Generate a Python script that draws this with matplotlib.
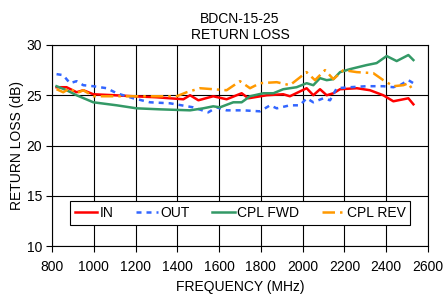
import numpy as np
import matplotlib
matplotlib.use("Agg")
import matplotlib.pyplot as plt

plt.rcParams['font.family'] = ['Liberation Sans', 'DejaVu Sans']

# --- data ---
freq_in = [822, 870, 918, 950, 998, 1100, 1189, 1300, 1429, 1461, 1501, 1572, 1636, 1708,
           1740, 1828, 1907, 1939, 2019, 2051, 2083, 2115, 2147, 2179, 2259, 2322, 2386,
           2434, 2506, 2530]
rl_in = [25.8, 25.8, 25.3, 25.5, 25.1, 25.0, 24.9, 24.8, 24.6, 25.0, 24.5, 24.9, 24.6, 25.2,
         24.7, 25.0, 25.1, 24.9, 25.7, 25.0, 25.6, 25.0, 25.2, 25.6, 25.7, 25.5, 25.0,
         24.4, 24.7, 24.1]

freq_out = [822, 854, 886, 918, 950, 998, 1062, 1110, 1189, 1269, 1365, 1476, 1548, 1588,
            1636, 1716, 1796, 1844, 1876, 1939, 1987, 2019, 2051, 2099, 2131, 2163, 2227,
            2306, 2386, 2434, 2466, 2506, 2530]
rl_out = [27.1, 27.0, 26.2, 26.4, 26.0, 25.9, 25.7, 25.2, 24.7, 24.3, 24.2, 23.8, 23.3, 23.8,
          23.5, 23.5, 23.4, 24.0, 23.7, 24.0, 24.0, 24.7, 24.3, 24.7, 24.5, 25.7, 25.8,
          25.9, 25.9, 25.8, 26.0, 26.5, 26.2]

freq_fwd = [822, 870, 918, 998, 1110, 1205, 1317, 1461, 1524, 1572, 1604, 1668, 1708, 1748,
            1812, 1860, 1907, 1971, 2019, 2051, 2083, 2115, 2147, 2179, 2227, 2306, 2354,
            2402, 2450, 2506, 2530]
rl_fwd = [25.9, 25.5, 25.0, 24.3, 24.0, 23.7, 23.6, 23.5, 23.7, 23.9, 23.8, 24.3, 24.3, 24.9,
          25.2, 25.2, 25.6, 25.8, 26.2, 26.0, 26.7, 26.5, 26.6, 27.3, 27.6, 28.0, 28.2,
          28.9, 28.4, 29.0, 28.5]

freq_rev = [822, 854, 886, 918, 950, 998, 1110, 1269, 1397, 1445, 1509, 1572, 1636, 1700,
            1748, 1796, 1876, 1939, 2019, 2059, 2107, 2147, 2195, 2259, 2338, 2386, 2434,
            2482, 2506, 2530]
rl_rev = [25.6, 25.3, 25.7, 25.2, 25.5, 24.9, 24.9, 24.9, 24.9, 25.3, 25.7, 25.6, 25.5, 26.4,
          25.7, 26.2, 26.3, 26.0, 27.3, 26.5, 27.5, 26.6, 27.5, 27.3, 27.2, 26.5, 25.9,
          26.0, 26.2, 25.4]

x_ticks = list(range(800, 2601, 200))
y_ticks = [10, 15, 20, 25, 30]

# --- plot ---
fig = plt.figure(figsize=(4.44, 2.94), dpi=100)
ax = fig.add_axes([0.117, 0.163, 0.847, 0.684])

ax.plot(freq_in, rl_in, color='#FF0000', lw=1.8, label='IN')
ax.plot(freq_out, rl_out, color='#3366FF', lw=1.8, ls=(0, (2, 2)), label='OUT')
ax.plot(freq_fwd, rl_fwd, color='#339966', lw=1.8, label='CPL FWD')
ax.plot(freq_rev, rl_rev, color='#FF9900', lw=1.8, ls=(0, (5, 2, 1, 2)), label='CPL REV')

ax.set_xlim(800, 2600)
ax.set_ylim(10, 30)
ax.set_xticks(x_ticks)
ax.set_yticks(y_ticks)
ax.grid(True, color='black', lw=0.8)
ax.tick_params(axis='x', labelsize=10, length=4, width=0.8, direction='out', pad=6)
ax.tick_params(axis='y', labelsize=10, length=4, width=0.8, direction='out', pad=3)
for s in ax.spines.values():
    s.set_linewidth(0.8)

ax.set_xlabel('FREQUENCY (MHz)', fontsize=10, labelpad=4)
ax.set_ylabel('RETURN LOSS (dB)', fontsize=10, labelpad=2)
ax.set_title('BDCN-15-25\nRETURN LOSS', fontsize=10, pad=4, linespacing=1.2)

leg = ax.legend(loc='lower center', bbox_to_anchor=(0.5, 0.07), ncol=4, fontsize=10,
                frameon=True, fancybox=False, edgecolor='black', framealpha=1,
                handlelength=1.6, handletextpad=0.2, columnspacing=1.6,
                borderpad=0.35)
leg.get_frame().set_linewidth(0.8)

fig.savefig('out.png', dpi=100)
